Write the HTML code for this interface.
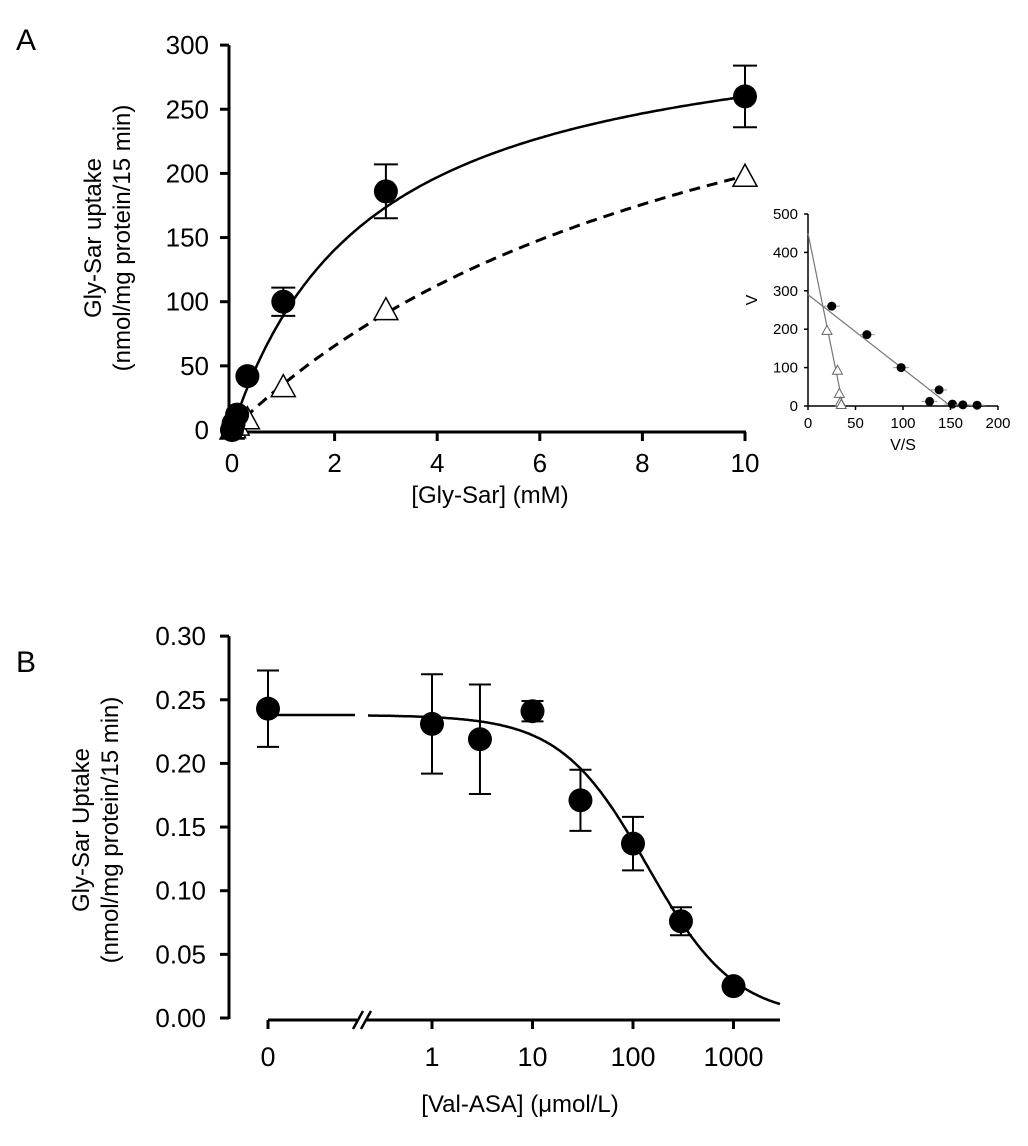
<!DOCTYPE html>
<html><head><meta charset="utf-8">
<style>
html,body{margin:0;padding:0;background:#fff;}
svg{display:block;font-family:"Liberation Sans",Arial,sans-serif;}
</style></head>
<body>
<svg id="fig" width="1028" height="1146" viewBox="0 0 1028 1146" xmlns="http://www.w3.org/2000/svg">
<text x="16" y="50" font-size="30">A</text>
<text x="16" y="672" font-size="30">B</text>
<g id="A"></g>
<g id="INS"></g>
<g id="B"></g>
</svg>
<script>
// Panel A data
const aX = [0, 0.03, 0.1, 0.3, 1, 3, 10];
const aFilled = [0, 5, 12, 42, 100, 186, 260];
const aFilledErr = [0, 0, 0, 0, 11, 21, 24];
const aOpen = [0, 1, 3, 8, 33, 93, 197];
const aYTicks = [0, 50, 100, 150, 200, 250, 300];
const aXTicks = [0, 2, 4, 6, 8, 10];
const fitFilled = [330, 2.7];
const fitOpen = [400, 10.2];
// Inset data
const insFilledX = [25, 62, 98, 138, 128, 152, 163, 178];
const insFilledY = [260, 186, 100, 42, 12, 5, 3, 2];
const insOpenX = [20, 31, 33, 34, 35];
const insOpenY = [197, 93, 33, 10, 4];
const insLineFilled = [290, 150];
const insLineOpen = [450, 37];
const insYTicks = [0, 100, 200, 300, 400, 500];
const insXTicks = [0, 50, 100, 150, 200];
// Panel B data
const bX = [1, 3, 10, 30, 100, 300, 1000];
const bY = [0.231, 0.219, 0.241, 0.171, 0.137, 0.076, 0.025];
const bErr = [0.039, 0.043, 0.008, 0.024, 0.021, 0.011, 0];
const bZero = [0.243, 0.030];
const bYTicks = [0, 0.05, 0.10, 0.15, 0.20, 0.25, 0.30];
const bXTicks = [1, 10, 100, 1000];
const bFit = [0.238, 140, 1.0];

const NS = "http://www.w3.org/2000/svg";
function mk(parent, tag, attrs, txt) {
  const e = document.createElementNS(NS, tag);
  for (const k in attrs) e.setAttribute(k, attrs[k]);
  if (txt !== undefined) e.textContent = txt;
  parent.appendChild(e);
  return e;
}
const A = document.getElementById('A');
const ax = v => 232 + v * 51.3;
const ay = v => 430 - v * 1.283;
let e;
e = mk(A, 'line', {x1: 229, y1: ay(300), x2: 229, y2: 432, stroke: '#000', 'stroke-width': 3});
 
e = mk(A, 'line', {x1: 229, y1: 432, x2: ax(10) + 1, y2: 432, stroke: '#000', 'stroke-width': 3});
 
aYTicks.forEach(t => {
  mk(A, 'line', {x1: 220, y1: ay(t), x2: 229, y2: ay(t), stroke: '#000', 'stroke-width': 3});
  e = mk(A, 'text', {x: 209, y: ay(t) + 9, 'font-size': 26, 'text-anchor': 'end'}, String(t));
   
});
aXTicks.forEach(t => {
  mk(A, 'line', {x1: ax(t), y1: 432, x2: ax(t), y2: 441, stroke: '#000', 'stroke-width': 3});
  e = mk(A, 'text', {x: ax(t), y: 472, 'font-size': 26, 'text-anchor': 'middle'}, String(t));
   
});
e = mk(A, 'text', {x: 490, y: 503, 'font-size': 24, 'text-anchor': 'middle'}, '[Gly-Sar] (mM)');
 
e = mk(A, 'text', {transform: 'translate(101,238) rotate(-90)', 'font-size': 24, 'text-anchor': 'middle'}, 'Gly-Sar uptake');
 
e = mk(A, 'text', {transform: 'translate(130,238) rotate(-90)', 'font-size': 24, 'text-anchor': 'middle'}, '(nmol/mg protein/15 min)');
 
function mmPath(p) {
  let d = '';
  for (let i = 0; i <= 200; i++) { const x = 10 * i / 200; const y = p[0] * x / (p[1] + x); d += (i ? 'L' : 'M') + ax(x).toFixed(1) + ',' + ay(y).toFixed(1); }
  return d;
}
e = mk(A, 'path', {d: mmPath(fitOpen), fill: 'none', stroke: '#000', 'stroke-width': 3, 'stroke-dasharray': '11,7'});
 
e = mk(A, 'path', {d: mmPath(fitFilled), fill: 'none', stroke: '#000', 'stroke-width': 2.5});
 
aX.forEach((x, i) => {
  const cx = ax(x), cy = ay(aOpen[i]);
  e = mk(A, 'polygon', {points: `${cx},${cy - 13} ${cx - 12},${cy + 9} ${cx + 12},${cy + 9}`, fill: '#fff', stroke: '#000', 'stroke-width': 1.5});
   
});
aX.forEach((x, i) => {
  const cx = ax(x), cy = ay(aFilled[i]), er = aFilledErr[i];
  if (er > 0) {
    const y1 = ay(aFilled[i] + er), y2 = ay(aFilled[i] - er);
    e = mk(A, 'path', {d: `M${cx},${y1}V${y2}M${cx - 12},${y1}H${cx + 12}M${cx - 12},${y2}H${cx + 12}`, stroke: '#000', 'stroke-width': 2, fill: 'none'});
     
  }
  e = mk(A, 'circle', {cx: cx, cy: cy, r: 12, fill: '#000'});
   
});
// Inset
const I = document.getElementById('INS');
const ix = v => 808 + v * 0.95;
const iy = v => 406 - v * 0.384;
e = mk(I, 'line', {x1: 808, y1: iy(500), x2: 808, y2: 406, stroke: '#000', 'stroke-width': 1.5});
 
e = mk(I, 'line', {x1: 808, y1: 406, x2: ix(200), y2: 406, stroke: '#000', 'stroke-width': 1.5});
 
insYTicks.forEach(t => {
  mk(I, 'line', {x1: 804, y1: iy(t), x2: 808, y2: iy(t), stroke: '#000', 'stroke-width': 1.5});
  e = mk(I, 'text', {x: 798, y: iy(t) + 5, 'font-size': 15, 'text-anchor': 'end'}, String(t));
   
});
insXTicks.forEach(t => {
  mk(I, 'line', {x1: ix(t), y1: 406, x2: ix(t), y2: 410, stroke: '#000', 'stroke-width': 1.5});
  e = mk(I, 'text', {x: ix(t), y: 428, 'font-size': 15, 'text-anchor': 'middle'}, String(t));
   
});
e = mk(I, 'text', {x: 903, y: 450, 'font-size': 16, 'text-anchor': 'middle'}, 'V/S');
 
e = mk(I, 'text', {transform: 'translate(757,300) rotate(-90)', 'font-size': 16, 'text-anchor': 'middle'}, 'V');
 
e = mk(I, 'line', {x1: ix(0), y1: iy(insLineFilled[0]), x2: ix(insLineFilled[1]), y2: iy(0), stroke: '#777', 'stroke-width': 1.2});
 
e = mk(I, 'line', {x1: ix(0), y1: iy(insLineOpen[0]), x2: ix(insLineOpen[1]), y2: iy(0), stroke: '#777', 'stroke-width': 1.2});
 
insOpenX.forEach((x, i) => {
  const cx = ix(x), cy = iy(insOpenY[i]);
  e = mk(I, 'polygon', {points: `${cx},${cy - 5} ${cx - 5},${cy + 4} ${cx + 5},${cy + 4}`, fill: '#fff', stroke: '#666', 'stroke-width': 1});
   
});
insFilledX.forEach((x, i) => {
  const cx = ix(x), cy = iy(insFilledY[i]);
  mk(I, 'line', {x1: cx - 8, y1: cy, x2: cx + 8, y2: cy, stroke: '#999', 'stroke-width': 1});
  e = mk(I, 'circle', {cx: cx, cy: cy, r: 4.5, fill: '#000'});
   
});
// Panel B
const B = document.getElementById('B');
const bx = v => 432 + Math.log10(v) * 100.5;
const bx0 = 268;
const by = v => 1018 - v * 1273;
e = mk(B, 'line', {x1: 229, y1: by(0.30), x2: 229, y2: by(0) + 1, stroke: '#000', 'stroke-width': 3});
 
bYTicks.forEach(t => {
  mk(B, 'line', {x1: 220, y1: by(t), x2: 229, y2: by(t), stroke: '#000', 'stroke-width': 3});
  e = mk(B, 'text', {x: 206, y: by(t) + 9, 'font-size': 26, 'text-anchor': 'end'}, t.toFixed(2));
   
});
const axY = by(0) + 2;
e = mk(B, 'path', {d: `M${bx0},${axY}H357M367,${axY}H780`, stroke: '#000', 'stroke-width': 3, fill: 'none'});
 
e = mk(B, 'path', {d: `M353,${axY + 9}L363,${axY - 9}M361,${axY + 9}L371,${axY - 9}`, stroke: '#000', 'stroke-width': 2.5, fill: 'none'});
 
mk(B, 'line', {x1: bx0, y1: axY, x2: bx0, y2: axY + 9, stroke: '#000', 'stroke-width': 3});
e = mk(B, 'text', {x: bx0, y: 1066, 'font-size': 27, 'text-anchor': 'middle'}, '0');
 
bXTicks.forEach(t => {
  mk(B, 'line', {x1: bx(t), y1: axY, x2: bx(t), y2: axY + 9, stroke: '#000', 'stroke-width': 3});
  e = mk(B, 'text', {x: bx(t), y: 1066, 'font-size': 27, 'text-anchor': 'middle'}, String(t));
   
});
e = mk(B, 'text', {x: 520, y: 1112, 'font-size': 24, 'text-anchor': 'middle'}, '[Val-ASA] (\u03bcmol/L)');
 
e = mk(B, 'text', {transform: 'translate(89,830) rotate(-90)', 'font-size': 24, 'text-anchor': 'middle'}, 'Gly-Sar Uptake');
 
e = mk(B, 'text', {transform: 'translate(118,830) rotate(-90)', 'font-size': 24, 'text-anchor': 'middle'}, '(nmol/mg protein/15 min)');
 
const fitY = x => bFit[0] / (1 + Math.pow(x / bFit[1], bFit[2]));
e = mk(B, 'line', {x1: bx0, y1: by(bFit[0]), x2: 355, y2: by(bFit[0]), stroke: '#000', 'stroke-width': 2.5});
 
let d = '';
for (let i = 0; i <= 300; i++) {
  const px = 368 + (780 - 368) * i / 300;
  const x = Math.pow(10, (px - 432) / 100.5);
  d += (i ? 'L' : 'M') + px.toFixed(1) + ',' + by(fitY(x)).toFixed(1);
}
e = mk(B, 'path', {d: d, fill: 'none', stroke: '#000', 'stroke-width': 2.5});
 
function bPoint(cx, v, er) {
  if (er > 0) {
    const y1 = by(v + er), y2 = by(v - er);
    e = mk(B, 'path', {d: `M${cx},${y1}V${y2}M${cx - 11},${y1}H${cx + 11}M${cx - 11},${y2}H${cx + 11}`, stroke: '#000', 'stroke-width': 2, fill: 'none'});
     
  }
  e = mk(B, 'circle', {cx: cx, cy: by(v), r: 12, fill: '#000'});
   
}
bPoint(bx0, bZero[0], bZero[1]);
bX.forEach((x, i) => bPoint(bx(x), bY[i], bErr[i]));
</script>
</body></html>
